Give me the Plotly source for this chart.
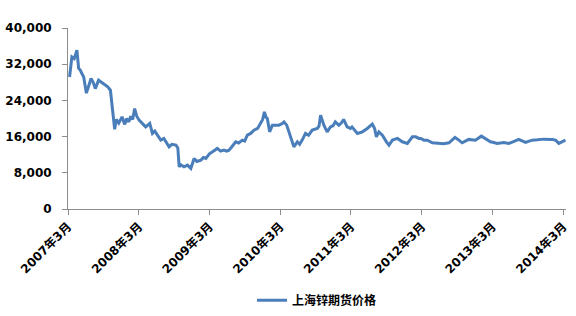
import plotly.graph_objects as go

dates = [
    "2007-03-09", "2007-03-21", "2007-04-02", "2007-04-16", "2007-04-25", "2007-05-04",
    "2007-05-11", "2007-05-21", "2007-06-04", "2007-06-16", "2007-06-28", "2007-07-09",
    "2007-07-20", "2007-08-06", "2007-08-22", "2007-09-10", "2007-09-22", "2007-10-06",
    "2007-10-12", "2007-10-19", "2007-10-28", "2007-11-05", "2007-11-18", "2007-12-05",
    "2007-12-19", "2007-12-29", "2008-01-09", "2008-01-19", "2008-01-29", "2008-02-08",
    "2008-02-19", "2008-03-02", "2008-03-15", "2008-04-05", "2008-04-26", "2008-05-10",
    "2008-05-22", "2008-06-05", "2008-06-22", "2008-07-08", "2008-07-18", "2008-08-04",
    "2008-08-18", "2008-09-08", "2008-09-18", "2008-09-25", "2008-10-03", "2008-10-20",
    "2008-11-07", "2008-11-24", "2008-12-11", "2008-12-25", "2009-01-15", "2009-01-28",
    "2009-02-10", "2009-02-28", "2009-03-16", "2009-03-27", "2009-04-10", "2009-04-27",
    "2009-05-14", "2009-05-28", "2009-06-09", "2009-06-23", "2009-07-14", "2009-07-29",
    "2009-08-17", "2009-08-29", "2009-09-12", "2009-09-29", "2009-10-16", "2009-11-04",
    "2009-11-19", "2009-11-30", "2009-12-09", "2009-12-17", "2009-12-24", "2010-01-05",
    "2010-01-19", "2010-02-05", "2010-02-22", "2010-03-11", "2010-03-20", "2010-04-03",
    "2010-04-15", "2010-04-26", "2010-05-10", "2010-05-28", "2010-06-09", "2010-06-22",
    "2010-07-09", "2010-07-25", "2010-08-13", "2010-09-08", "2010-09-17", "2010-09-25",
    "2010-10-05", "2010-10-12", "2010-10-29", "2010-11-15", "2010-11-28", "2010-12-10",
    "2010-12-28", "2011-01-10", "2011-01-22", "2011-02-09", "2011-02-26", "2011-03-06",
    "2011-04-03", "2011-04-29", "2011-05-24", "2011-06-19", "2011-07-01", "2011-07-10",
    "2011-07-23", "2011-08-10", "2011-08-31", "2011-09-13", "2011-10-01", "2011-10-27",
    "2011-11-21", "2011-12-17", "2012-01-12", "2012-01-29", "2012-02-15", "2012-02-24",
    "2012-03-12", "2012-03-29", "2012-04-24", "2012-05-28", "2012-06-21", "2012-07-19",
    "2012-08-19", "2012-09-08", "2012-09-25", "2012-10-29", "2012-12-02", "2013-01-02",
    "2013-02-01", "2013-02-18", "2013-03-07", "2013-03-25", "2013-04-28", "2013-05-24",
    "2013-06-17", "2013-07-14", "2013-08-18", "2013-09-21", "2013-10-19", "2013-11-20",
    "2014-01-03", "2014-01-20", "2014-02-06", "2014-02-25", "2014-03-12",
]

zinc_price = [
    29180, 33600, 33240, 35080, 31100, 30660,
    30000, 29180, 25600, 27500, 28830, 28000,
    26600, 28460, 27900, 27350, 27000, 26250,
    24000, 21470, 17600, 19800, 19000, 20360,
    18700, 20000, 19260, 20500, 19800, 22200,
    20500, 19630, 19000, 18150, 18900, 16700,
    17200, 16320, 15220, 15600, 14850, 13740,
    14300, 14120, 13500, 9330, 9800, 9330,
    9700, 8980, 11180, 10500, 10810, 11400,
    11180, 12200, 12640, 13010, 13390, 12800,
    13010, 12800, 13010, 13700, 14850, 14600,
    15220, 15000, 16320, 16700, 17430, 17800,
    18900, 19800, 21470, 20300, 20000, 17050,
    18530, 18530, 18530, 18900, 19260, 18530,
    17050, 15500, 13740, 14850, 14300, 15220,
    16700, 16300, 17430, 17800, 18300, 20740,
    19500, 18530, 17050, 18150, 18400, 19260,
    18530, 19000, 19790, 18150, 17800, 18150,
    16700, 17050, 17800, 18750, 17800, 15950,
    17050, 16320, 14850, 14120, 15220, 15600,
    14850, 14490, 15950, 15950, 15600, 15600,
    15220, 15220, 14630, 14490, 14400, 14630,
    15820, 15220, 14630, 15380, 15220, 16100,
    15220, 14850, 14710, 14490, 14710, 14490,
    14900, 15380, 14710, 15220, 15300, 15440,
    15380, 15200, 14490, 14800, 15220,
]

tick_dates = ["2007-03-01", "2008-03-01", "2009-03-01", "2010-03-01",
              "2011-03-01", "2012-03-01", "2013-03-01", "2014-03-01"]
tick_labels = ["2007年3月", "2008年3月", "2009年3月", "2010年3月",
               "2011年3月", "2012年3月", "2013年3月", "2014年3月"]
y_ticks = [0, 8000, 16000, 24000, 32000, 40000]

font_family = "DejaVu Sans, Noto Sans CJK SC, sans-serif"

fig = go.Figure()
fig.add_trace(go.Scatter(
    x=dates, y=zinc_price, mode="lines", name="上海锌期货价格",
    line=dict(color="#4a7ebb", width=3),
))

fig.update_layout(
    width=576, height=316,
    margin=dict(l=68, r=10, t=28, b=107, autoexpand=False),
    paper_bgcolor="white", plot_bgcolor="white",
    font=dict(family=font_family, size=12, color="black"),
    showlegend=True,
    legend=dict(orientation="h", x=0.5, xanchor="center",
                yref="container", y=0.05, yanchor="middle",
                font=dict(size=12, weight="bold")),
)
fig.update_xaxes(
    type="date", range=["2007-03-01", "2014-03-15"],
    tickvals=tick_dates, ticktext=tick_labels, tickangle=-45,
    showline=True, linecolor="#8c8c8c", linewidth=1,
    ticks="outside", tickcolor="#8c8c8c", ticklen=5,
    showgrid=False, zeroline=False, automargin=False,
    tickfont=dict(size=12, weight="bold"),
)
fig.update_yaxes(
    range=[0, 40000], tickvals=y_ticks, tickformat=",",
    showline=True, linecolor="#8c8c8c", linewidth=1,
    ticks="outside", tickcolor="#8c8c8c", ticklen=5,
    showgrid=False, zeroline=False, automargin=False,
    ticklabelstandoff=8,
    tickfont=dict(size=12, weight="bold"),
)

fig.write_html("out.html")
